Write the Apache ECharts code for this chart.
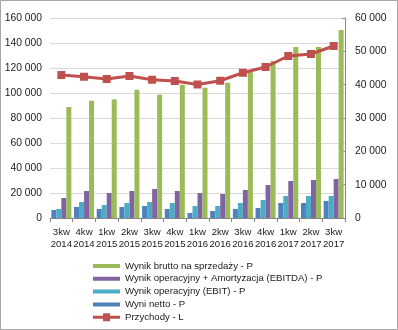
<!DOCTYPE html>
<html><head><meta charset="utf-8">
<script src="https://cdn.jsdelivr.net/npm/echarts@6/dist/echarts.min.js"></script>
<style>html,body{margin:0;padding:0;background:#fff}#c{width:398px;height:330px}</style>
</head><body><div id="c"></div>
<script>
var categories = ['3kw\n2014','4kw\n2014','1kw\n2015','2kw\n2015','3kw\n2015','4kw\n2015','1kw\n2016','2kw\n2016','3kw\n2016','4kw\n2016','1kw\n2017','2kw\n2017','3kw\n2017'];
var wyniNetto = [2400,3300,2700,3300,3600,2700,1500,2100,2700,3000,4500,4500,5100];
var ebit = [2700,4800,3900,4500,4800,4500,3600,3600,4500,5400,6600,6600,6600];
var ebitda = [6000,8100,7500,8100,8700,8100,7500,7200,8400,9900,11100,11400,11700];
var brutto = [33300,35200,35600,38500,37000,40000,39100,40600,43900,47100,51300,51300,56400];
var przychody = [114400,113000,111200,113600,110600,109600,106800,109800,116200,120800,129600,131200,137600];
var leftTicks = {min:0, max:160000, interval:20000};
var rightTicks = {min:0, max:60000, interval:10000};

var fmt = function(v){ return v===0 ? '0' : String(v).replace(/\B(?=(\d{3})+(?!\d))/g,' '); };
var font = 'Liberation Sans';
var txt = '#1a1a1a';
var barIcon = 'path://M0,0h0.01v0.01h-0.01z M0,2h27v4h-27z M26.99,7.99h0.01v0.01h-0.01z';
var lineIcon = 'path://M0,2.5h10v-2.5h7v2.5h10v3h-10v2.5h-7v-2.5h-10z';

var chart = echarts.init(document.getElementById('c'), null, {renderer:'canvas'});
chart.setOption({
  animation:false,
  backgroundColor:'#fff',
  graphic:[{type:'rect',shape:{x:0.5,y:0.5,width:397,height:329},style:{fill:'none',stroke:'#a6a6a6',lineWidth:1},z:-1}],
  grid:{left:50,right:53,top:18,bottom:112},
  legend:{
    orient:'vertical', left:88, top:256, itemWidth:27, itemHeight:8, itemGap:2.8,
    textStyle:{fontFamily:font,fontSize:9.6,color:txt},
    data:[
      {name:'Wynik brutto na sprzedaży - P',icon:barIcon},
      {name:'Wynik operacyjny + Amortyzacja (EBITDA) - P',icon:barIcon},
      {name:'Wynik operacyjny (EBIT) - P',icon:barIcon},
      {name:'Wyni netto - P',icon:barIcon},
      {name:'Przychody - L',icon:lineIcon}
    ]
  },
  xAxis:{
    type:'category', data:categories,
    axisLine:{lineStyle:{color:'#868686'}},
    axisTick:{show:true,length:4,lineStyle:{color:'#868686'}},
    axisLabel:{fontFamily:font,fontSize:9.6,color:txt,lineHeight:12,margin:8,interval:0}
  },
  yAxis:[
    {type:'value',min:leftTicks.min,max:leftTicks.max,interval:leftTicks.interval,
     axisLine:{show:false},axisTick:{show:false},
     splitLine:{lineStyle:{color:'#d9d9d9'}},
     axisLabel:{fontFamily:font,fontSize:10.3,color:txt,formatter:fmt,margin:8}},
    {type:'value',min:rightTicks.min,max:rightTicks.max,interval:rightTicks.interval,position:'right',
     axisLine:{show:true,lineStyle:{color:'#868686'}},
     axisTick:{show:true,inside:true,length:3,lineStyle:{color:'#868686'}},
     splitLine:{show:false},
     axisLabel:{fontFamily:font,fontSize:10.3,color:txt,formatter:fmt,margin:10}}
  ],
  series:[
    {name:'Wyni netto - P',type:'bar',yAxisIndex:1,data:wyniNetto,barWidth:5,barGap:'0%',itemStyle:{color:'#4F81BD'}},
    {name:'Wynik operacyjny (EBIT) - P',type:'bar',yAxisIndex:1,data:ebit,barWidth:5,barGap:'0%',itemStyle:{color:'#4BACC6'}},
    {name:'Wynik operacyjny + Amortyzacja (EBITDA) - P',type:'bar',yAxisIndex:1,data:ebitda,barWidth:5,barGap:'0%',itemStyle:{color:'#8064A2'}},
    {name:'Wynik brutto na sprzedaży - P',type:'bar',yAxisIndex:1,data:brutto,barWidth:5,barGap:'0%',itemStyle:{color:'#9BBB59'}},
    {name:'Przychody - L',type:'line',yAxisIndex:0,data:przychody,symbol:'rect',symbolSize:8,z:5,
     lineStyle:{color:'#C0504D',width:3},itemStyle:{color:'#C0504D'}}
  ]
});
</script></body></html>
